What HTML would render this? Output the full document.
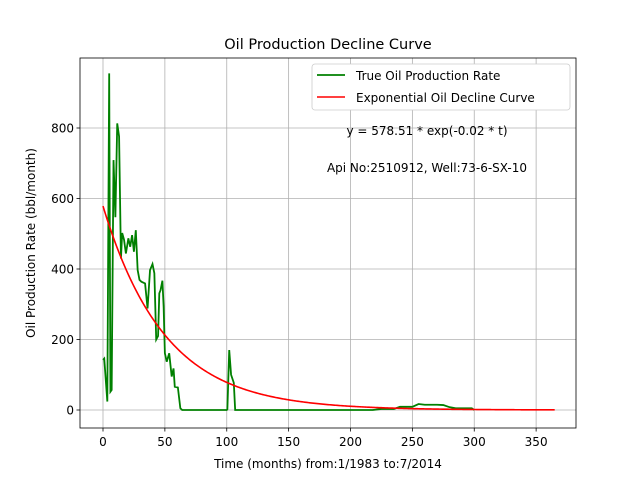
<!DOCTYPE html>
<html><head><meta charset="utf-8"><style>
body{margin:0;background:#fff;font-family:"Liberation Sans","DejaVu Sans",sans-serif}
text{font-family:"DejaVu Sans","Liberation Sans",sans-serif}
</style></head><body>
<svg id="c" width="640" height="480" viewBox="0 0 640 480"></svg>
<script>
const trueT=[0,1,3.5,5,6,7,8.5,10,11.5,13,14.5,15.5,17,18.5,20.5,22,23.5,25,26.5,28,29.5,31,34,36,38,40,41.5,43,44.5,45.5,46.5,48,49,50,51.5,53.5,55.5,57,58,60.5,62.5,64,100,100.5,102,103.5,105.7,106.8,218,225,235,240,250,255,260,270,275,280,285,298,300];
const trueV=[142,146,24,955,52,57,709,547,813,776,430,502,483,444,487,463,496,449,510,397,369,364,359,288,397,414,388,200,210,331,340,367,293,161,137,161,95,118,66,64,5,0,0,2,170,100,77,0,0,3,3,9,9,17,15,15,14,8,5,5,0];
const xTicks=[0,50,100,150,200,250,300,350];
const yTicks=[0,200,400,600,800];
const A=578.51,k=0.02,tMax=365;
const svg=document.getElementById('c');const NS='http://www.w3.org/2000/svg';
function el(t,a,p){const e=document.createElementNS(NS,t);for(const q in a)e.setAttribute(q,a[q]);(p||svg).appendChild(e);return e;}
const L=80,R=576,T=58,B=428;
const sx=v=>103+v*1.2375, sy=v=>410-v*0.3525;
for(const t of xTicks){const x=sx(t);
 const g=el('line',{x1:x,x2:x,y1:T,y2:B,stroke:'#b0b0b0','stroke-width':0.8});
 
 el('line',{x1:x,x2:x,y1:B,y2:B+3.5,stroke:'#000','stroke-width':0.8});
 const tx=el('text',{x:x,y:B+18,'text-anchor':'middle','font-size':12});tx.textContent=t;
 }
for(const v of yTicks){const y=sy(v);
 const g=el('line',{x1:L,x2:R,y1:y,y2:y,stroke:'#b0b0b0','stroke-width':0.8});
 
 el('line',{x1:L-3.5,x2:L,y1:y,y2:y,stroke:'#000','stroke-width':0.8});
 const tx=el('text',{x:L-6,y:y+4.5,'text-anchor':'end','font-size':12});tx.textContent=v;
 }
let d='';for(let t=0;t<=tMax;t+=1)d+=(t?'L':'M')+sx(t)+','+sy(A*Math.exp(-k*t));
let dg='';trueT.forEach((t,i)=>dg+=(i?'L':'M')+sx(t)+','+sy(trueV[i]));
const gl=el('path',{d:dg,fill:'none',stroke:'#008000','stroke-width':1.8});

const rl=el('path',{d:d,fill:'none',stroke:'#ff0000','stroke-width':1.6});

const fr=el('rect',{x:L,y:T,width:R-L,height:B-T,fill:'none',stroke:'#000','stroke-width':0.8});

</script>
<svg width="640" height="480" style="position:absolute;left:0;top:0">
<text x="328" y="49" text-anchor="middle" font-size="14.5">Oil Production Decline Curve</text>
<text x="328" y="468" text-anchor="middle" font-size="12">Time (months) from:1/1983 to:7/2014</text>
<text transform="translate(35,243) rotate(-90)" text-anchor="middle" font-size="12">Oil Production Rate (bbl/month)</text>
<g>
<rect x="312" y="64" width="258" height="46" rx="3" fill="#fff" stroke="#ccc" stroke-width="0.8"/>
<line x1="317" x2="345" y1="75" y2="75" stroke="#008000" stroke-width="1.8"/>
<text x="356" y="80" font-size="12">True Oil Production Rate</text>
<line x1="317" x2="345" y1="97" y2="97" stroke="#ff0000" stroke-width="1.6"/>
<text x="356" y="102" font-size="12">Exponential Oil Decline Curve</text>
</g>
<text x="427" y="135" text-anchor="middle" font-size="12">y = 578.51 * exp(-0.02 * t)</text>
<text x="427" y="172" text-anchor="middle" font-size="12">Api No:2510912, Well:73-6-SX-10</text>
</svg>
</body></html>
